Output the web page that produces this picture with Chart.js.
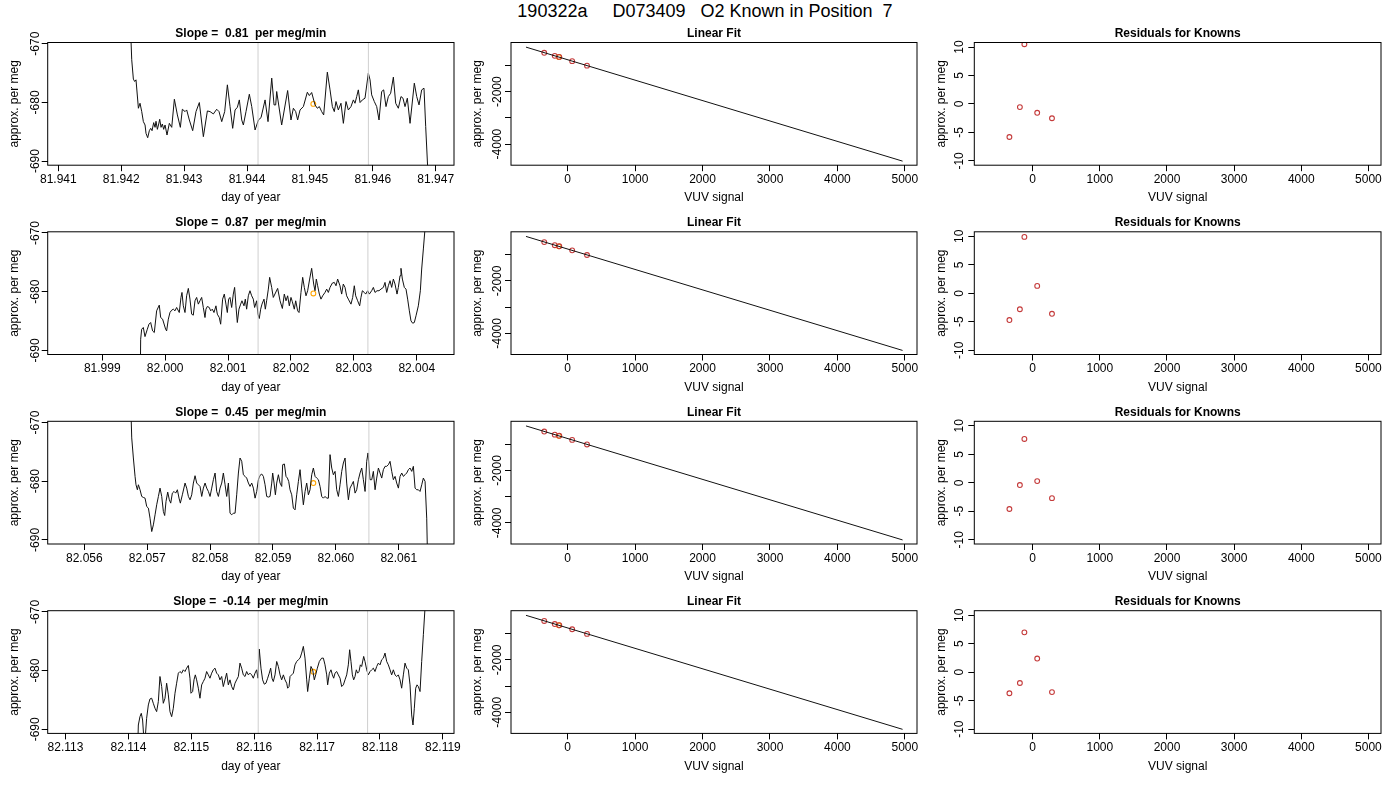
<!DOCTYPE html>
<html><head><meta charset="utf-8">
<script src="https://cdn.jsdelivr.net/npm/chart.js@4.4.1/dist/chart.umd.min.js"></script>
<style>
html,body{margin:0;padding:0;background:#fff;width:1400px;height:800px;overflow:hidden;}
.cell{position:absolute;}
#main{position:absolute;top:1px;left:0;width:1410px;text-align:center;font:18px 'Liberation Sans',Arial,Helvetica,sans-serif;white-space:pre;color:#000;}
</style></head><body>
<div id="main">190322a     D073409   O2 Known in Position  7</div>
<script>
// ---------------- DATA ----------------
const mainTitle = "190322a     D073409   O2 Known in Position  7";
const slopes = ["0.81", "0.87", "0.45", "-0.14"];

// time series (day of year, approx. per meg)
const t1 = [81.942129,81.942167,81.942193,81.942214,81.942235,81.942273,81.942299,81.942326,81.942352,81.942379,81.942394,81.942421,81.942447,81.942469,81.942490,81.942516,81.942538,81.942553,81.942575,81.942596,81.942612,81.942633,81.942654,81.942675,81.942697,81.942728,81.942765,81.942803,81.942845,81.942893,81.942940,81.942972,81.943015,81.943041,81.943083,81.943136,81.943189,81.943242,81.943306,81.943370,81.943412,81.943465,81.943518,81.943555,81.943598,81.943645,81.943688,81.943730,81.943772,81.943810,81.943847,81.943878,81.943916,81.943942,81.943984,81.944037,81.944075,81.944128,81.944181,81.944223,81.944287,81.944334,81.944393,81.944430,81.944456,
81.944472,81.944551,81.944646,81.944699,81.944737,81.944774,81.944805,81.944843,81.944896,81.944959,81.944991,81.945028,81.945081,81.945118,81.945150,81.945187,81.945219,81.945277,81.945320,81.945357,81.945388,81.945415,81.945452,81.945494,81.945532,81.945574,81.945611,81.945653,81.945691,81.945717,81.945744,81.945770,81.945797,81.945834,81.945876,81.945929,81.945956,81.945982,81.946024,81.946062,81.946099,81.946141,81.946173,81.946210,81.946247,81.946284,81.946327,81.946364,81.946406,81.946448,81.946480,81.946512,81.946549,81.946592,81.946660,81.946698,81.946735,81.946777,81.946814,81.946841,81.946873,81.946880];
const v1 = [-662,-672.74,-676.04,-676.44,-676.16,-681.0,-680.15,-681.57,-683.28,-683.85,-685.27,-686.02,-684.82,-684.42,-684.82,-683.45,-684.25,-683.22,-684.59,-683.68,-682.88,-684.25,-683.68,-684.59,-683.85,-685.56,-683.57,-684.25,-679.46,-682.14,-684.25,-681.17,-681.57,-681.29,-683.0,-684.82,-681.57,-680.03,-685.84,-681.46,-681.57,-681.97,-681.17,-681.57,-683.28,-681.57,-677.01,-680.72,-684.42,-681.29,-680.83,-679.58,-683.0,-683.85,-681.57,-678.61,-680.72,-684.70,-683.0,-682.60,-679.58,-683.28,-675.87,-680.43,-680.43,
-678.15,-683.85,-677.98,-683.0,-681.0,-681.57,-683.0,-681.29,-680.72,-678.27,-678.84,-678.32,-680.43,-681.0,-680.72,-681.57,-682.14,-674.85,-677.87,-680.72,-681.57,-679.86,-681.29,-680.15,-683.57,-679.86,-681.29,-680.72,-679.58,-680.15,-679.01,-677.87,-680.03,-679.58,-679.29,-675.02,-676.16,-678.72,-679.86,-680.72,-683.0,-678.15,-677.87,-680.72,-679.01,-678.44,-675.70,-680.15,-681.0,-679.01,-679.29,-680.72,-679.29,-683.57,-676.73,-679.01,-680.43,-677.87,-677.58,-684.13,-691.2,-700];

const t2 = [81.999599,81.999610,81.999626,81.999652,81.999679,81.999716,81.999742,81.999769,81.999800,81.999827,81.999864,81.999906,81.999928,81.999959,82.000007,82.000023,82.000050,82.000076,82.000103,82.000129,82.000156,82.000182,82.000224,82.000251,82.000267,82.000288,82.000315,82.000341,82.000368,82.000394,82.000421,82.000447,82.000474,82.000500,82.000527,82.000553,82.000580,82.000606,82.000633,82.000648,82.000670,82.000701,82.000723,82.000749,82.000776,82.000807,82.000829,82.000860,82.000882,82.000913,82.000940,82.000966,82.000988,82.001009,82.001030,82.001057,82.001083,82.001104,82.001125,82.001147,82.001173,82.001200,82.001221,82.001253,82.001274,82.001295,82.001322,82.001348,82.001375,82.001401,82.001422,82.001454,82.001475,82.001496,82.001518,82.001539,82.001571,82.001592,82.001613,82.001640,82.001661,82.001693,82.001719,
82.001788,82.001826,82.001863,82.001894,82.001921,82.001947,82.001974,82.002000,82.002022,82.002053,82.002075,82.002106,82.002128,82.002159,82.002186,82.002212,82.002239,82.002265,82.002297,82.002329,82.002361,82.002382,82.002403,82.002424,82.002451,82.002477,82.002504,82.002541,82.002568,82.002594,82.002621,82.002658,82.002689,82.002716,82.002742,82.002779,82.002806,82.002832,82.002859,82.002885,82.002912,82.002954,82.002981,82.003007,82.003029,82.003060,82.003092,82.003113,82.003135,82.003166,82.003188,82.003219,82.003246,82.003283,82.003310,82.003336,82.003368,82.003400,82.003431,82.003469,82.003495,82.003522,82.003548,82.003575,82.003601,82.003628,82.003654,82.003686,82.003707,82.003734,82.003749,82.003771,82.003802,82.003829,82.003855,82.003882,82.003908,82.003935,82.003961,82.003988,82.004025,82.004057,82.004078,82.004105,82.004131,82.004150];
const v2 = [-700,-688.1,-686.4,-686.1,-687.65,-686.4,-685.54,-685.25,-686.68,-686.96,-683.26,-682.29,-684.40,-684.68,-686.39,-686.68,-684.68,-683.55,-683.15,-682.98,-683.26,-682.69,-683.55,-680.98,-680.13,-682.41,-683.55,-680.70,-679.44,-681.27,-683.83,-684.0,-681.55,-680.98,-682.12,-681.55,-680.98,-682.69,-684.40,-682.98,-682.52,-682.69,-683.26,-682.98,-683.55,-682.41,-683.83,-684.40,-685.54,-681.27,-680.41,-682.12,-683.55,-681.27,-680.98,-682.69,-680.41,-679.27,-682.41,-685.25,-682.98,-682.12,-681.55,-682.41,-681.27,-682.98,-680.70,-679.84,-680.70,-681.27,-682.69,-681.55,-683.83,-684.57,-682.98,-682.12,-681.27,-682.98,-681.55,-679.56,-677.56,-679.27,-680.98,
-679.44,-681.55,-682.86,-680.41,-681.55,-680.70,-682.41,-680.98,-681.72,-682.98,-681.55,-683.26,-683.55,-680.13,-677.56,-679.27,-680.70,-679.84,-677.85,-676.02,-678.70,-679.84,-677.85,-678.99,-680.41,-681.27,-680.70,-680.13,-679.56,-680.13,-679.27,-678.53,-678.42,-678.99,-677.85,-678.99,-680.41,-678.70,-679.27,-680.70,-681.27,-682.12,-680.98,-678.99,-680.70,-681.55,-682.41,-680.98,-679.84,-680.13,-680.41,-679.84,-680.41,-679.84,-679.27,-680.13,-679.84,-679.84,-679.56,-679.27,-678.42,-680.13,-678.99,-678.13,-679.27,-677.85,-678.70,-680.41,-679.27,-677.28,-676.02,-677.85,-679.27,-679.56,-681.27,-683.26,-684.97,-685.37,-685.25,-684.11,-682.41,-679.84,-676.14,-672.72,-669.3,-660];

const t3 = [82.056720,82.056754,82.056780,82.056807,82.056822,82.056844,82.056860,82.056886,82.056913,82.056939,82.056966,82.056992,82.057019,82.057045,82.057072,82.057098,82.057125,82.057151,82.057178,82.057204,82.057231,82.057257,82.057278,82.057299,82.057326,82.057352,82.057374,82.057400,82.057427,82.057453,82.057480,82.057506,82.057527,82.057559,82.057602,82.057628,82.057655,82.057681,82.057708,82.057734,82.057761,82.057787,82.057814,82.057840,82.057867,82.057893,82.057920,82.057946,82.057973,82.057999,82.058026,82.058052,82.058079,82.058105,82.058132,82.058158,82.058185,82.058211,82.058238,82.058264,82.058291,82.058317,82.058344,82.058370,82.058397,82.058423,82.058450,82.058476,82.058503,82.058529,82.058556,82.058582,82.058609,82.058635,82.058662,82.058688,82.058715,82.058741,82.058768,82.058794,82.058821,82.058847,82.058874,82.058900,82.058927,82.058953,82.058980,82.058995,82.059017,82.059038,82.059059,82.059086,82.059112,82.059139,82.059154,82.059181,82.059207,82.059229,82.059250,82.059271,82.059298,82.059324,82.059351,82.059377,82.059404,82.059430,82.059457,82.059483,82.059510,82.059536,82.059563,82.059589,82.059616,82.059642,82.059669,82.059695,82.059722,82.059748,82.059775,82.059801,82.059828,82.059854,82.059881,82.059907,82.059934,82.059960,82.059987,82.060013,82.060040,82.060066,82.060093,82.060119,82.060146,82.060172,82.060199,82.060225,82.060252,82.060278,82.060305,82.060331,82.060358,82.060384,82.060411,82.060437,82.060464,82.060490,82.060511,82.060543,82.060570,82.060596,82.060623,82.060649,82.060676,82.060702,82.060729,82.060755,82.060782,82.060808,82.060835,82.060861,82.060888,82.060914,82.060941,82.060967,82.060994,82.061020,82.061047,82.061073,82.061100,82.061126,82.061153,82.061179,82.061206,82.061232,82.061259,82.061285,82.061312,82.061338,82.061365,82.061391,82.061418,82.061444,82.061471];
const v3 = [-660,-672.63,-676.05,-679.18,-680.61,-681.46,-680.61,-681.46,-682.60,-682.77,-682.89,-684.31,-684.59,-686.30,-688.58,-687.44,-685.73,-684.02,-682.60,-681.18,-682.60,-685.16,-685.85,-683.46,-681.86,-683.17,-683.74,-682.03,-681.75,-682.03,-681.46,-682.89,-683.74,-682.32,-680.32,-681.18,-682.60,-683.17,-682.32,-680.32,-679.07,-680.32,-680.61,-680.89,-682.60,-681.18,-680.32,-681.18,-681.75,-682.60,-681.18,-679.75,-678.61,-681.75,-682.60,-681.18,-680.32,-678.61,-680.61,-682.60,-680.32,-685.45,-685.73,-685.45,-685.45,-682.32,-678.61,-676.05,-676.62,-678.90,-679.18,-679.47,-680.32,-680.89,-680.32,-681.18,-682.89,-681.75,-679.75,-679.01,-678.78,-679.18,-680.61,-682.60,-682.71,-682.60,-680.32,-678.61,-680.32,-682.32,-680.32,-678.90,-680.32,-680.89,-677.19,-677.07,-679.18,-679.47,-680.04,-681.46,-682.32,-684.59,-684.88,-682.32,-680.04,-678.04,-681.18,-684.02,-681.75,-680.32,-682.32,-681.46,-678.90,-677.76,-679.18,-679.47,-679.75,-680.89,-682.60,-682.89,-682.60,-682.89,-682.89,-675.48,-677.76,-678.90,-678.33,-681.46,-682.60,-680.61,-678.33,-676.90,-676.05,-680.32,-683.17,-681.18,-680.61,-680.04,-682.03,-681.46,-679.75,-678.61,-677.76,-679.75,-681.75,-676.62,-675.19,-679.75,-679.75,-678.33,-681.46,-679.47,-677.76,-678.61,-679.47,-678.04,-677.47,-677.47,-677.19,-676.62,-678.33,-679.75,-679.18,-680.32,-681.18,-679.18,-678.61,-679.18,-678.90,-678.61,-678.04,-677.76,-678.33,-677.47,-681.18,-681.46,-681.46,-681.75,-680.61,-679.47,-680.04,-686.30,-700];

const t4 = [82.114131,82.114158,82.114184,82.114205,82.114226,82.114248,82.114264,82.114290,82.114317,82.114343,82.114370,82.114396,82.114423,82.114449,82.114476,82.114502,82.114529,82.114555,82.114582,82.114608,82.114635,82.114661,82.114688,82.114714,82.114741,82.114767,82.114794,82.114820,82.114847,82.114873,82.114900,82.114926,82.114953,82.114979,82.114995,82.115021,82.115043,82.115064,82.115085,82.115112,82.115138,82.115165,82.115191,82.115218,82.115244,82.115271,82.115297,82.115324,82.115350,82.115377,82.115403,82.115430,82.115456,82.115483,82.115509,82.115536,82.115562,82.115589,82.115615,82.115642,82.115668,82.115695,82.115721,82.115748,82.115774,82.115801,82.115827,82.115854,82.115880,82.115907,82.115933,82.115960,82.115986,82.116013,82.116039,82.116060,82.116081,82.116108,82.116134,82.116161,82.116187,82.116214,82.116240,82.116262,82.116283,82.116304,
82.116331,82.116358,82.116384,82.116411,82.116437,82.116464,82.116490,82.116517,82.116532,82.116554,82.116570,82.116596,82.116623,82.116649,82.116676,82.116702,82.116729,82.116755,82.116782,82.116808,82.116835,82.116850,82.116877,82.116903,82.116930,82.116956,82.116978,82.117004,82.117036,82.117073,82.117100,82.117126,82.117153,82.117168,82.117195,82.117221,82.117243,82.117264,82.117285,82.117312,82.117338,82.117365,82.117391,82.117418,82.117444,82.117471,82.117497,82.117518,82.117539,82.117561,82.117582,82.117603,82.117624,82.117645,82.117667,82.117688,82.117709,82.117741,82.117762,82.117789,82.117815,82.117842,82.117868,82.117895,82.117921,82.117948,82.117974,82.118001,82.118027,82.118054,82.118080,82.118107,82.118133,82.118160,82.118186,82.118213,82.118239,82.118266,82.118292,82.118319,82.118345,82.118372,82.118398,82.118425,82.118451,82.118478,82.118504,82.118525,82.118546,82.118568,82.118589,82.118610,82.118637,82.118663,82.118690,82.118716,82.118730];
const v4 = [-700,-689.27,-687.85,-687.28,-688.42,-692,-692,-688.13,-685.85,-684.83,-684.71,-685.57,-686.42,-686.99,-685.28,-681.01,-682.72,-685.57,-684.71,-682.15,-684.14,-686.99,-687.85,-686.42,-683.86,-682.15,-680.44,-680.16,-680.44,-679.87,-680.16,-679.59,-679.13,-681.30,-683.86,-683.57,-681.58,-680.73,-681.58,-683.0,-684.71,-682.43,-681.87,-681.30,-680.16,-680.73,-681.30,-680.44,-679.87,-679.59,-680.44,-680.73,-681.58,-681.01,-682.72,-681.58,-680.44,-682.43,-681.58,-682.72,-683.29,-682.15,-681.58,-681.01,-678.73,-679.59,-680.73,-681.01,-680.16,-680.73,-680.44,-680.73,-681.30,-680.44,-679.87,-681.30,-676.34,-679.59,-681.58,-682.32,-682.15,-681.30,-680.44,-679.59,-681.30,-681.87,
-680.73,-678.45,-679.30,-680.73,-681.58,-680.73,-681.58,-682.15,-683.0,-682.72,-681.01,-680.73,-680.44,-679.02,-678.45,-678.16,-677.88,-677.02,-675.88,-677.88,-681.58,-683.57,-681.30,-679.30,-679.87,-681.58,-680.73,-679.59,-678.45,-677.88,-677.88,-679.02,-680.73,-682.43,-680.44,-679.87,-680.73,-681.30,-680.44,-680.16,-680.73,-681.30,-682.72,-682.43,-681.58,-680.73,-679.02,-676.45,-678.45,-680.73,-681.58,-681.01,-679.87,-680.44,-680.16,-679.02,-679.30,-677.59,-678.45,-679.87,-680.73,-680.16,-679.87,-679.59,-680.16,-679.30,-678.73,-679.02,-678.16,-677.88,-677.02,-678.45,-679.02,-679.87,-680.73,-679.87,-680.73,-681.01,-680.73,-681.58,-683.0,-680.73,-678.73,-679.59,-679.87,-682.43,-687.56,-689.27,-686.42,-683.0,-682.43,-682.72,-683.57,-678.45,-673.89,-669.33,-660];

// grey marker lines (day of year) and orange sample point per row
const markers = [[81.944175, 81.945930], [82.001477, 82.003223], [82.058777, 82.060525], [82.116064, 82.117803]];
const sampleT = [81.945054, 82.002356, 82.059642, 82.116941];
const sampleV = [-680.26, -680.30, -680.32, -680.21];

// time-series axes
const tsXMin = [81.940831, 81.998132, 82.055418, 82.112717];
const tsXMax = [81.947291, 82.004592, 82.061878, 82.119177];
const tsXTicks = [
  [81.941, 81.942, 81.943, 81.944, 81.945, 81.946, 81.947],
  [81.999, 82.000, 82.001, 82.002, 82.003, 82.004],
  [82.056, 82.057, 82.058, 82.059, 82.060, 82.061],
  [82.113, 82.114, 82.115, 82.116, 82.117, 82.118, 82.119]];
const tsXLabels = [
  ["81.941", "81.942", "81.943", "81.944", "81.945", "81.946", "81.947"],
  ["81.999", "82.000", "82.001", "82.002", "82.003", "82.004"],
  ["82.056", "82.057", "82.058", "82.059", "82.060", "82.061"],
  ["82.113", "82.114", "82.115", "82.116", "82.117", "82.118", "82.119"]];
const tsYMin = -690.7, tsYMax = -669.8;
const tsYTicks = [-690, -680, -670];
const tsYLabels = ["-690", "-680", "-670"];

// knowns: VUV signal, assigned values, residuals
const knownX = [-347, -191, -124, 67, 287];
const knownY = [
  [-519, -635, -676, -837, -1009],
  [-518, -637, -677, -834, -1010],
  [-517, -635, -679, -835, -1009],
  [-517, -636, -679, -833, -1010]];
const residuals = [
  [-5.8, -0.55, 10.5, -1.55, -2.5],
  [-4.7, -2.8, 9.9, 1.3, -3.6],
  [-4.6, -0.4, 7.7, 0.3, -2.7],
  [-3.7, -1.9, 7.0, 2.4, -3.5]];
const sampleVUV = -132;
const fitLineX = [-618, 4966];
const fitLineY = [-302, -4650];

const vuvTicks = [0, 1000, 2000, 3000, 4000, 5000];
const vuvLabels = ["0", "1000", "2000", "3000", "4000", "5000"];
const fitXMin = -840, fitXMax = 5180, fitYMin = -4805, fitYMax = -126;
const fitYTicks = [-1000, -2000, -3000, -4000];
const fitYLabels = ["", "-2000", "", "-4000"];
const resXMin = -870, resXMax = 5188, resYMin = -10.75, resYMax = 10.8;
const resYTicks = [-10, -5, 0, 5, 10];
const resYLabels = ["-10", "-5", "0", "5", "10"];

// ---------------- LAYOUT ----------------
const FONT = "'Liberation Sans', Arial, Helvetica, sans-serif";
const colLeft = [47.7, 511, 974.3], colRight = [454, 917, 1381];
const rowTop = [42.5, 231.8, 421.3, 610.7];
const PLOT_H = 122.7, Y_AXIS_W = 47, X_AXIS_H = 41, TITLE_H = 16.2, PAD_R = 24, TICK = 6;
const yLabelOff = [12.5, 13.5, 14.5];

const mctx = document.createElement('canvas').getContext('2d');
function textW(s) { mctx.font = "12px " + FONT; return mctx.measureText(s).width; }

const boxPlugin = {
  id: 'rbox',
  afterDatasetsDraw(chart) {
    const a = chart.chartArea, ctx = chart.ctx;
    ctx.save(); ctx.strokeStyle = '#000'; ctx.lineWidth = 1;
    ctx.strokeRect(a.left, a.top, a.right - a.left, a.bottom - a.top);
    ctx.restore();
  }
};

function build(col, row, o) {
  const L = colLeft[col], R = colRight[col], T = rowTop[row], B = T + PLOT_H;
  const cl = Math.floor(L - Y_AXIS_W), ct = Math.floor(T - TITLE_H);
  const cr = Math.ceil(R + PAD_R), cb = Math.ceil(B + X_AXIS_H);
  const w = cr - cl, h = cb - ct;
  const div = document.createElement('div');
  div.className = 'cell';
  div.style.left = cl + 'px'; div.style.top = ct + 'px';
  div.style.width = w + 'px'; div.style.height = h + 'px';
  const cv = document.createElement('canvas');
  cv.width = w; cv.height = h; cv.style.width = w + 'px'; cv.style.height = h + 'px';
  div.appendChild(cv); document.body.appendChild(div);
  const widest = Math.max(...o.yLabels.map(textW));
  const yPad = yLabelOff[col] - TICK - widest / 2;
  const tickFont = { family: FONT, size: 12 };
  const grid = { display: true, drawOnChartArea: false, drawTicks: true, tickLength: TICK, color: '#000', lineWidth: 1 };
  new Chart(cv, {
    type: 'scatter',
    data: { datasets: o.datasets },
    plugins: [boxPlugin],
    options: {
      responsive: false, animation: false, events: [],
      layout: { padding: { left: L - Y_AXIS_W - cl, top: T - TITLE_H - ct, right: cr - R, bottom: cb - B - X_AXIS_H } },
      plugins: {
        legend: { display: false }, tooltip: { enabled: false },
        title: { display: true, text: o.title, fullSize: false, color: '#000',
                 font: { family: FONT, size: 12, weight: 'bold' }, padding: { top: 0, bottom: 1.8 } }
      },
      scales: {
        x: {
          type: 'linear', min: o.xMin, max: o.xMax,
          afterBuildTicks: s => { s.ticks = o.xTicks.map(v => ({ value: v })); },
          afterFit: s => { s.height = X_AXIS_H; },
          ticks: { autoSkip: false, minRotation: 0, maxRotation: 0, padding: 1, color: '#000', font: tickFont,
                   callback: (v, i) => o.xLabels[i] },
          grid: grid, border: { display: false },
          title: { display: true, text: o.xTitle, color: '#000', font: tickFont, padding: { top: 0, bottom: 1 } }
        },
        y: {
          type: 'linear', min: o.yMin, max: o.yMax,
          afterBuildTicks: s => { s.ticks = o.yTicks.map(v => ({ value: v })); },
          afterFit: s => { s.width = Y_AXIS_W; },
          ticks: { autoSkip: false, minRotation: 90, maxRotation: 90, crossAlign: 'center', padding: yPad,
                   color: '#000', font: tickFont, callback: (v, i) => o.yLabels[i] },
          grid: grid, border: { display: false },
          title: { display: true, text: 'approx. per meg', color: '#000', font: tickFont, padding: { top: 6.8, bottom: 0 } }
        }
      }
    }
  });
}

const RED = '#c43a3a';
function circles(xs, ys, color) {
  return { data: xs.map((x, i) => ({ x: x, y: ys[i] })), pointRadius: 2.4, pointBorderWidth: 1.1,
           pointBorderColor: color, pointBackgroundColor: 'rgba(0,0,0,0)', showLine: false };
}

const T = [t1, t2, t3, t4], V = [v1, v2, v3, v4];
for (let r = 0; r < 4; r++) {
  // time series panel
  const ds = [];
  markers[r].forEach(m => ds.push({ data: [{ x: m, y: tsYMin }, { x: m, y: tsYMax }], showLine: true,
    borderColor: '#cfcfcf', borderWidth: 1, pointRadius: 0 }));
  ds.push({ data: T[r].map((t, i) => ({ x: t, y: V[r][i] })), showLine: true, borderColor: '#111',
            borderWidth: 1, pointRadius: 0, tension: 0 });
  ds.push(circles([sampleT[r]], [sampleV[r]], '#ffa500'));
  build(0, r, { datasets: ds, title: 'Slope =  ' + slopes[r] + '  per meg/min', xTitle: 'day of year',
    xMin: tsXMin[r], xMax: tsXMax[r], xTicks: tsXTicks[r], xLabels: tsXLabels[r],
    yMin: tsYMin, yMax: tsYMax, yTicks: tsYTicks, yLabels: tsYLabels });

  // linear fit panel
  build(1, r, { datasets: [
      { data: fitLineX.map((x, i) => ({ x: x, y: fitLineY[i] })), showLine: true, borderColor: '#111', borderWidth: 1, pointRadius: 0 },
      circles(knownX, knownY[r], RED),
      circles([sampleVUV], [sampleV[r]], '#ffa500')],
    title: 'Linear Fit', xTitle: 'VUV signal',
    xMin: fitXMin, xMax: fitXMax, xTicks: vuvTicks, xLabels: vuvLabels,
    yMin: fitYMin, yMax: fitYMax, yTicks: fitYTicks, yLabels: fitYLabels });

  // residual panel
  build(2, r, { datasets: [circles(knownX, residuals[r], RED)],
    title: 'Residuals for Knowns', xTitle: 'VUV signal',
    xMin: resXMin, xMax: resXMax, xTicks: vuvTicks, xLabels: vuvLabels,
    yMin: resYMin, yMax: resYMax, yTicks: resYTicks, yLabels: resYLabels });
}
</script>
</body></html>
